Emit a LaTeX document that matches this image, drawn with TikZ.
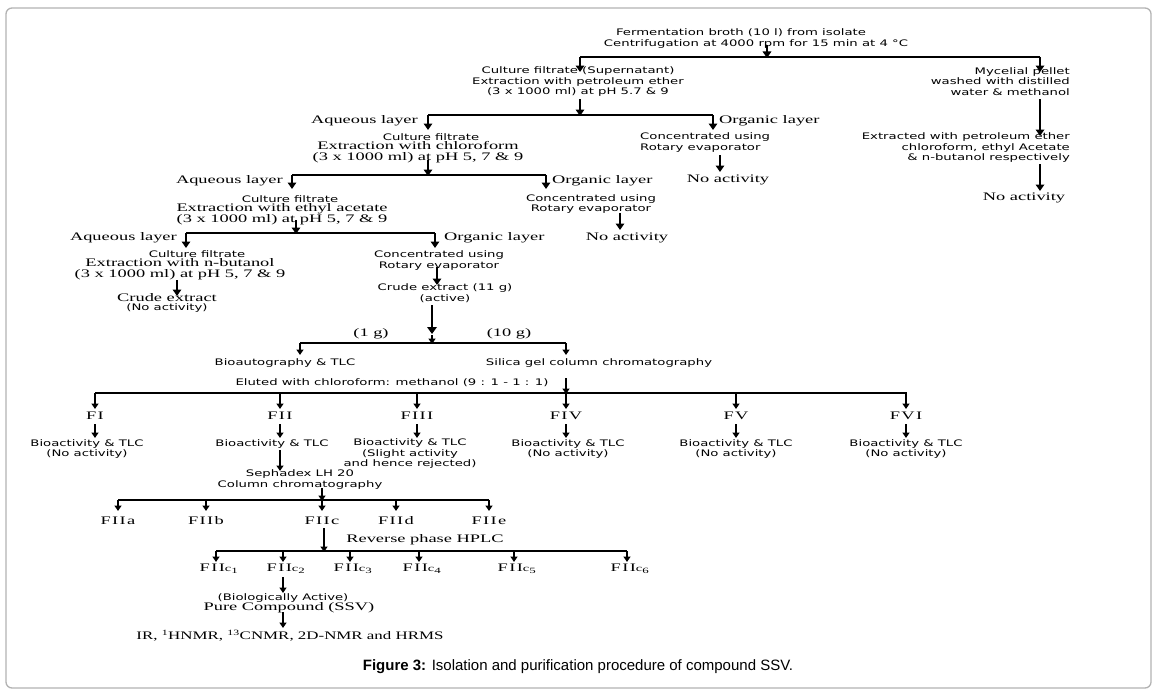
\documentclass[tikz,border=0pt]{standalone}
\usepackage{fontspec}
\setmainfont{Liberation Serif}[FakeStretch=1.6]
\newfontfamily\irf{Liberation Serif}[FakeStretch=1.47]
\newfontfamily\sansf{DejaVu Sans}[FakeStretch=1.47]
\newfontfamily\fser{Liberation Serif}[FakeStretch=1.6,LetterSpace=12]
\newfontfamily\capf{Liberation Sans}
\usetikzlibrary{arrows.meta}
\newcommand\varr[5][arr]{\coordinate (#2s) at (#3,#4);\coordinate (#2e) at (#3,#5);\draw[#1] (#2s) -- (#2e);}
\newcommand\hbarline[4]{\coordinate (#1l) at (#2,#4);\coordinate (#1r) at (#3,#4);\draw[barline] (#1l) -- (#1r);}
\begin{document}
\begin{tikzpicture}[x=1pt,y=-1pt,
 sanstxt/.style={font=\sansf\fontsize{9}{10.5}\selectfont,inner sep=0pt,align=center},
 sertxt/.style={font=\fontsize{11.5}{11}\selectfont,inner sep=0pt,align=center},
 fraclab/.style={font=\fser\fontsize{11.5}{11}\selectfont,inner sep=0pt},
 arr/.style={line width=2.2pt,-{Triangle[width=8.5pt,length=6.5pt]}},
 arrt/.style={line width=1.5pt,-{Triangle[width=7pt,length=5.5pt]}},
 barline/.style={line width=1.2pt},
]
\useasboundingbox (0,0) rectangle (1158,693);
\draw[black!30,line width=1.3pt,rounded corners=6pt] (6,8) rectangle (1151,688);

% top
\node[sanstxt] (ferm) at (741,33) {Fermentation broth (10 l) from isolate};
\node[sanstxt] (centr) at (756,44) {Centrifugation at 4000 rpm for 15 min at 4 °C};
\varr{a1}{767}{45}{58}
\hbarline{b1}{580}{1040}{57}
\varr{a2}{580}{57}{72}
\varr{a3}{1040}{57}{72}

% left branch
\node[sanstxt] (cf1) at (578,82) {Culture filtrate (Supernatant)\\Extraction with petroleum ether\\(3 x 1000 ml) at pH 5.7 \& 9};
\varr{a4}{580}{99}{116}
\hbarline{b2}{428}{713}{115}
\varr{a5}{428}{115}{130}
\varr{a6}{713}{115}{130}
\node[sertxt,anchor=east] (aq1) at (418,121) {Aqueous layer};
\node[sertxt,anchor=west] (org1) at (719,121) {Organic layer};

% right branch
\node[sanstxt,align=right,anchor=east] (myc) at (1070,81.5) {Mycelial pellet\\washed with distilled\\water \& methanol};
\varr{a7}{1040}{99}{136}
\node[sanstxt,align=right,anchor=east] (extr) at (1070,148) {Extracted with petroleum ether\\chloroform, ethyl Acetate\\\& n-butanol respectively};
\varr{a8}{1040}{164}{191}
\node[sertxt] (na1) at (1024,198) {No activity};

% organic 1
\node[sanstxt,align=left,anchor=west] (conc1) at (640,142.5) {Concentrated using\\Rotary evaporator};
\varr{a9}{720}{155}{172}
\node[sertxt] (na2) at (728,180) {No activity};

% aqueous 1
\node[sanstxt] (cf2) at (431,137) {Culture filtrate};
\node[sertxt] (ex2) at (418,152.5) {Extraction with chloroform\\(3 x 1000 ml) at pH 5, 7 \& 9};
\varr{a10}{428}{160}{176}
\hbarline{b3}{292}{546}{175}
\varr{a11}{292}{175}{189}
\varr{a12}{546}{175}{189}
\node[sertxt,anchor=east] (aq2) at (283,181) {Aqueous layer};
\node[sertxt,anchor=west] (org2) at (552,181) {Organic layer};

% organic 2
\node[sanstxt] (conc2) at (591,204) {Concentrated using\\Rotary evaporator};
\varr{a13}{620}{213}{230}
\node[sertxt] (na3) at (627,238) {No activity};

% aqueous 2
\node[sanstxt] (cf3) at (290,199) {Culture filtrate};
\node[sertxt] (ex3) at (282,214) {Extraction with ethyl acetate\\(3 x 1000 ml) at pH 5, 7 \& 9};
\varr{a14}{296}{220}{234}
\hbarline{b4}{186}{435}{233}
\varr{a15}{186}{233}{248}
\varr{a16}{435}{233}{248}
\node[sertxt,anchor=east] (aq3) at (177,238) {Aqueous layer};
\node[sertxt,anchor=west] (org3) at (444,238) {Organic layer};

% aqueous 3
\node[sanstxt] (cf4) at (197,254) {Culture filtrate};
\node[sertxt] (ex4) at (180,269.5) {Extraction with n-butanol\\(3 x 1000 ml) at pH 5, 7 \& 9};
\varr{a17}{177}{280}{296}
\node[sertxt] (crude1) at (167,298) {Crude extract};
\node[sanstxt] (noact1) at (167,308) {(No activity)};

% organic 3
\node[sanstxt] (conc3) at (439,260.5) {Concentrated using\\Rotary evaporator};
\varr{a18}{437}{267}{285}
\node[sanstxt] (crude2) at (445,293) {Crude extract (11 g)\\(active)};
\varr[line width=2.6pt,-{Triangle[width=9.5pt,length=7pt]}]{a19}{432}{305}{334}
\varr[arrt]{a20}{432}{335}{344}
\node[sertxt] (g1) at (371,334) {(1 g)};
\node[sertxt] (g10) at (509,334) {(10 g)};
\hbarline{b5}{300}{566}{343}
\varr[arrt]{a21}{300}{343}{355}
\varr[arrt]{a22}{566}{343}{355}
\node[sanstxt] (bio) at (285,363) {Bioautography \& TLC};
\node[sanstxt] (silica) at (599,363) {Silica gel column chromatography};
\node[sanstxt] (elut) at (392,383) {Eluted with chloroform: methanol (9 : 1 - 1 : 1)};
\varr[arrt]{a23}{566}{378}{394}
\hbarline{b6}{95}{907}{393}
\foreach \n/\x/\lab in {1/95/FI,2/280/FII,3/417/FIII,4/566/FIV,5/736/FV,6/906/FVI}{
  \varr[arrt]{f\n}{\x}{393}{409}
  \node[fraclab] (F\n) at (\x,416) {\lab};
}
\foreach \n/\x in {1/95,2/280,3/417,4/566,5/736,6/906}{
  \varr[arrt]{g\n}{\x}{424}{438}
}
\node[sanstxt] (bt1) at (87,449) {Bioactivity \& TLC\\(No activity)};
\node[sanstxt] (bt2) at (272,444) {Bioactivity \& TLC};
\node[sanstxt] (bt3) at (410,454) {Bioactivity \& TLC\\(Slight activity\\and hence rejected)};
\node[sanstxt] (bt4) at (568,449) {Bioactivity \& TLC\\(No activity)};
\node[sanstxt] (bt5) at (736,449) {Bioactivity \& TLC\\(No activity)};
\node[sanstxt] (bt6) at (906,449) {Bioactivity \& TLC\\(No activity)};

% FII
\varr[arrt]{a24}{280}{450}{471}
\node[sanstxt] (seph) at (300,479.5) {Sephadex LH 20\\Column chromatography};
\varr[arrt]{a25}{322}{488}{501}
\hbarline{b7}{118}{489}{500}
\foreach \n/\x/\lab in {a/118/FIIa,b/206/FIIb,c/322/FIIc,d/396/FIId,e/489/FIIe}{
  \varr[arrt]{h\n}{\x}{500}{511}
  \node[fraclab] (FII\n) at (\x,521) {\lab};
}
\varr[arrt]{a26}{324}{528}{552}
\node[sertxt] (rp) at (425,540) {Reverse phase HPLC};
\hbarline{b8}{216}{627}{551}
\foreach \n/\x in {1/216,2/283,3/350,4/419,5/514,6/627}{
  \varr[arrt]{k\n}{\x}{551}{562}
  \node[fraclab] (FIIc\n) at (\x+3,569) {FII{\fontsize{9}{9}\selectfont c}\textsubscript{\n}};
}
\varr[arrt]{a27}{283}{577}{593}
\node[sanstxt] (bioact) at (283,598) {(Biologically Active)};
\node[sertxt] (pure) at (289,608) {Pure Compound (SSV)};
\varr[arrt]{a28}{283}{612}{628}
\node[sertxt,font=\irf\fontsize{11.5}{11}\selectfont] (ir) at (290,636) {IR, \textsuperscript{1}HNMR, \textsuperscript{13}CNMR, 2D-NMR and HRMS};

\node[font=\capf\fontsize{15}{16}\selectfont,inner sep=0pt] (cap) at (578,667) {\textbf{Figure 3:} Isolation and purification procedure of compound SSV.};
\end{tikzpicture}
\end{document}
